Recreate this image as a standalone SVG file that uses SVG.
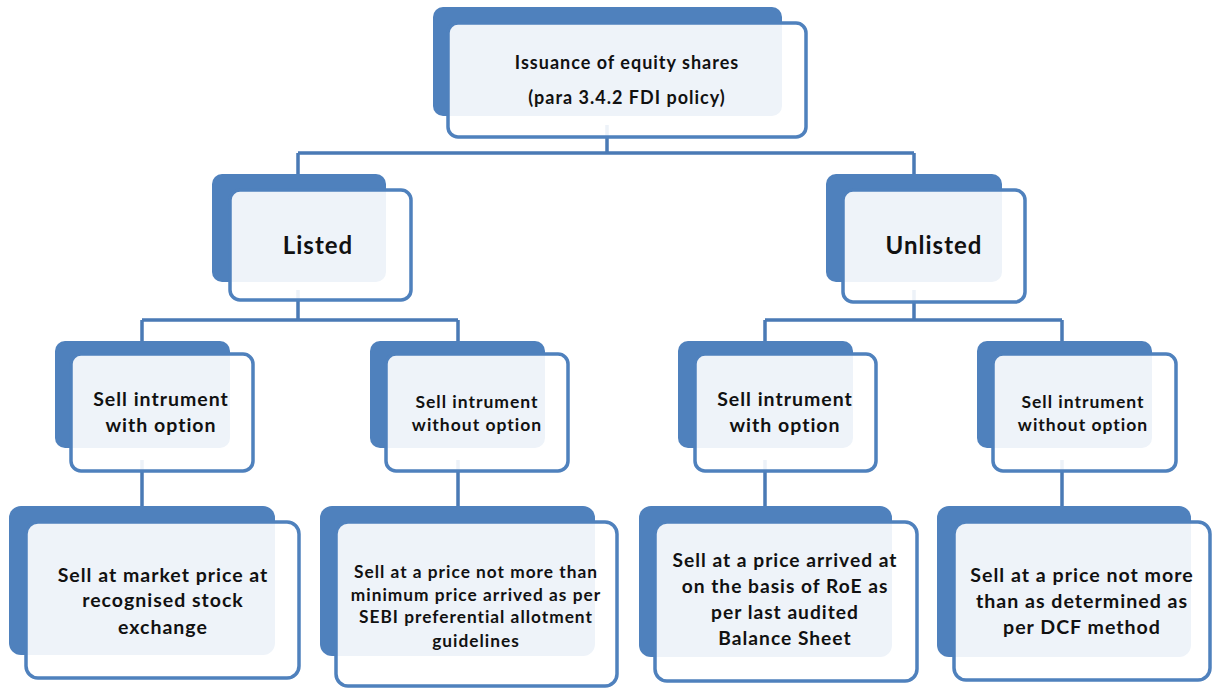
<svg xmlns="http://www.w3.org/2000/svg" width="1216" height="690" viewBox="0 0 1216 690">
<style>
.back{fill:#4f81bd}
.front{fill:#ffffff;fill-opacity:0.9;stroke:#4f81bd;stroke-width:3.5}
.t{font-family:Lato,"Liberation Sans",sans-serif;font-weight:bold;fill:#111;text-anchor:middle;letter-spacing:1px}
.c{stroke:#4a7ab5;stroke-width:3.5;fill:none}
</style>
<rect width="1216" height="690" fill="#fff"/>
<g id="connectors">
<path class="c" d="M607 125V153M298 153H914M298 153V180M914 153V180"/>
<path class="c" d="M298 290V320M142 320H458M142 320V345M458 320V345"/>
<path class="c" d="M914 290V320M765 320H1062M765 320V345M1062 320V345"/>
<path class="c" d="M142 460V510M458 460V510M765 460V510M1062 460V510"/>
</g>
<g id="n-root">
<rect class="back" x="433" y="7" width="349" height="109" rx="10"/>
<rect class="front" x="448" y="23" width="358" height="114" rx="10"/>
<text class="t" font-size="18" x="627" y="69">Issuance of equity shares</text>
<text class="t" font-size="18" x="627" y="104">(para 3.4.2 FDI policy)</text>
</g>
<g id="n-listed">
<rect class="back" x="212" y="174" width="174" height="108" rx="10"/>
<rect class="front" x="230" y="190" width="181" height="110" rx="10"/>
<text class="t" font-size="24" x="318" y="254">Listed</text>
</g>
<g id="n-unlisted">
<rect class="back" x="826" y="174" width="176" height="108" rx="10"/>
<rect class="front" x="843" y="190" width="182" height="112" rx="10"/>
<text class="t" font-size="24" x="934" y="254">Unlisted</text>
</g>
<g id="n-l-with">
<rect class="back" x="55" y="341" width="175" height="107" rx="10"/>
<rect class="front" x="71" y="354" width="182" height="117" rx="10"/>
<text class="t" font-size="19.5" x="161" y="406">Sell intrument</text>
<text class="t" font-size="19.5" x="161" y="432">with option</text>
</g>
<g id="n-l-without">
<rect class="back" x="370" y="341" width="175" height="107" rx="10"/>
<rect class="front" x="386" y="354" width="182" height="117" rx="10"/>
<text class="t" font-size="17.5" x="477" y="408">Sell intrument</text>
<text class="t" font-size="17.5" x="477" y="431">without option</text>
</g>
<g id="n-u-with">
<rect class="back" x="678" y="341" width="175" height="107" rx="10"/>
<rect class="front" x="695" y="354" width="181" height="117" rx="10"/>
<text class="t" font-size="19.5" x="785" y="406">Sell intrument</text>
<text class="t" font-size="19.5" x="785" y="432">with option</text>
</g>
<g id="n-u-without">
<rect class="back" x="977" y="341" width="175" height="107" rx="10"/>
<rect class="front" x="993" y="354" width="183" height="117" rx="10"/>
<text class="t" font-size="17.5" x="1083" y="408">Sell intrument</text>
<text class="t" font-size="17.5" x="1083" y="431">without option</text>
</g>
<g id="n-market">
<rect class="back" x="9" y="506" width="266" height="149" rx="12"/>
<rect class="front" x="26" y="522" width="273" height="156" rx="12"/>
<text class="t" font-size="19.5" x="163" y="582">Sell at market price at</text>
<text class="t" font-size="19.5" x="163" y="607">recognised stock</text>
<text class="t" font-size="19.5" x="163" y="634">exchange</text>
</g>
<g id="n-sebi">
<rect class="back" x="320" y="506" width="275" height="150" rx="12"/>
<rect class="front" x="336" y="522" width="281" height="164" rx="12"/>
<text class="t" font-size="17.3" x="476" y="578">Sell at a price not more than</text>
<text class="t" font-size="17.3" x="476" y="601">minimum price arrived as per</text>
<text class="t" font-size="17.3" x="476" y="623">SEBI preferential allotment</text>
<text class="t" font-size="17.3" x="476" y="647">guidelines</text>
</g>
<g id="n-roe">
<rect class="back" x="639" y="506" width="253" height="151" rx="12"/>
<rect class="front" x="655" y="522" width="262" height="159" rx="12"/>
<text class="t" font-size="19.2" x="785" y="567">Sell at a price arrived at</text>
<text class="t" font-size="19.2" x="785" y="593">on the basis of RoE as</text>
<text class="t" font-size="19.2" x="785" y="619">per last audited</text>
<text class="t" font-size="19.2" x="785" y="645">Balance Sheet</text>
</g>
<g id="n-dcf">
<rect class="back" x="937" y="506" width="254" height="151" rx="12"/>
<rect class="front" x="954" y="522" width="256" height="158" rx="12"/>
<text class="t" font-size="19.6" x="1082" y="582">Sell at a price not more</text>
<text class="t" font-size="19.6" x="1082" y="608">than as determined as</text>
<text class="t" font-size="19.6" x="1082" y="634">per DCF method</text>
</g>
</svg>
